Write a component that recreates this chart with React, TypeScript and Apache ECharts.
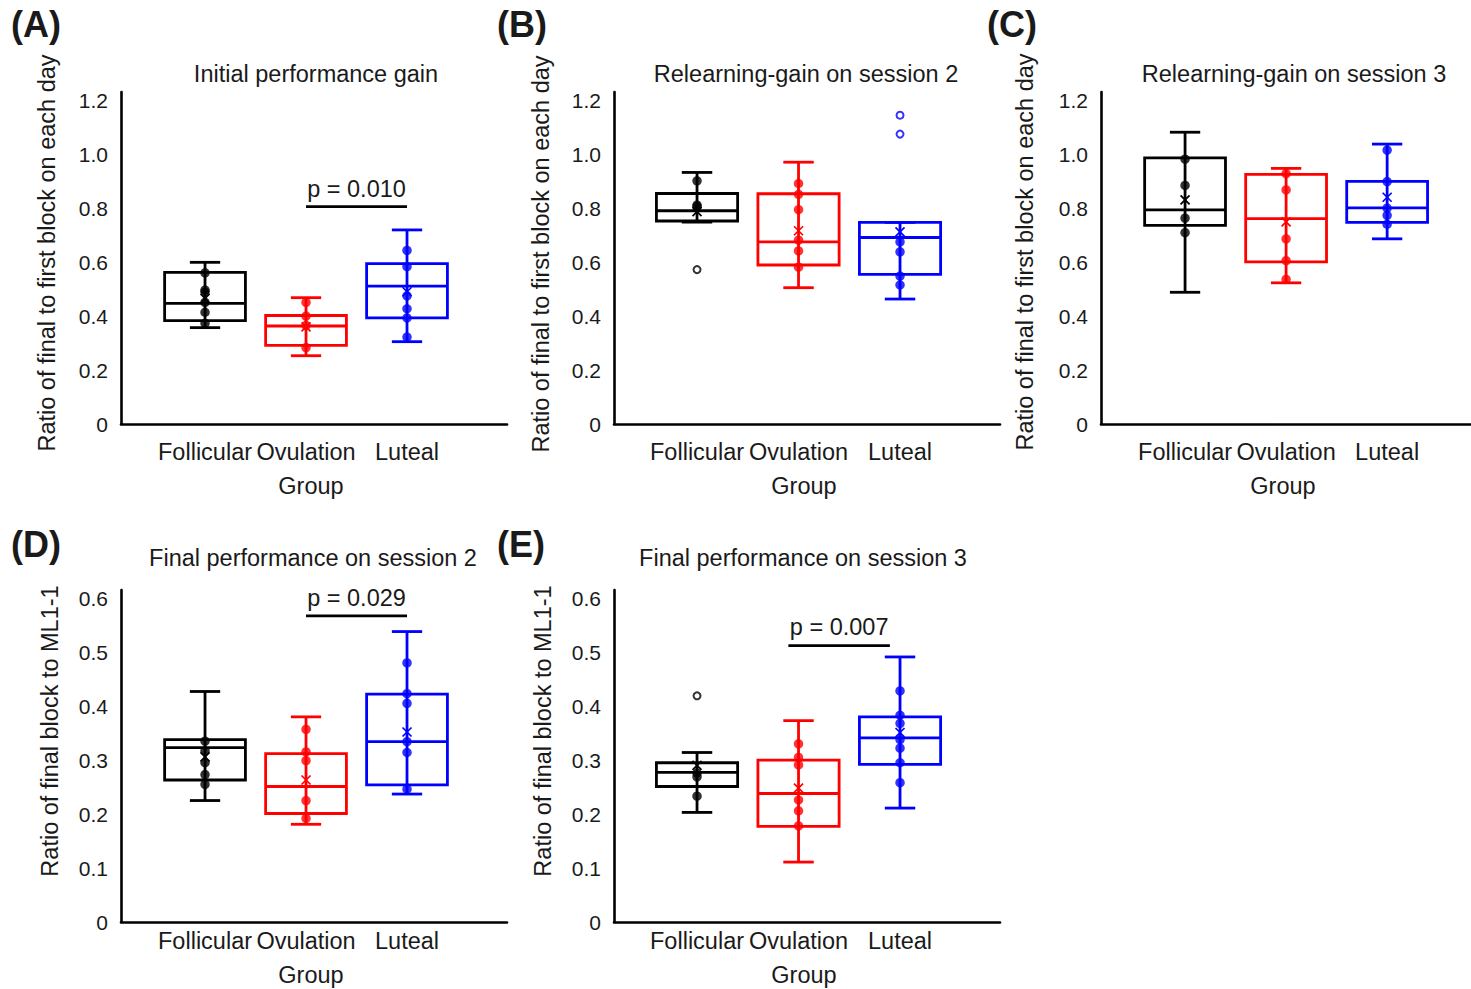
import React, { useEffect, useRef } from "react";
import * as echarts from "echarts";

// ---------- data ----------
const categories = ["Follicular", "Ovulation", "Luteal"];
const groupColors = ["#000000", "#ff0000", "#0000ff"];

const panelLetters = ["(A)", "(B)", "(C)", "(D)", "(E)"];
const panelTitles = [
  "Initial performance gain",
  "Relearning-gain on session 2",
  "Relearning-gain on session 3",
  "Final performance on session 2",
  "Final performance on session 3",
];
const yNameTop = "Ratio of final to first block on each day";
const yNameBottom = "Ratio of final block to ML1-1";
const xName = "Group";

const yTickLabelsTop = ["0", "0.2", "0.4", "0.6", "0.8", "1.0", "1.2"];
const yTickLabelsBottom = ["0", "0.1", "0.2", "0.3", "0.4", "0.5", "0.6"];

// stats per group: [lowWhisker, q1, median, q3, highWhisker, mean]
const statsA = [
  [0.357, 0.383, 0.447, 0.562, 0.599, 0.465],
  [0.253, 0.291, 0.363, 0.402, 0.468, 0.36],
  [0.305, 0.393, 0.511, 0.594, 0.719, 0.49],
];
const pointsA = [
  [0.56, 0.496, 0.489, 0.451, 0.414, 0.373],
  [0.451, 0.4, 0.365, 0.283],
  [0.643, 0.583, 0.475, 0.427, 0.393, 0.322],
];
const outliersA = [[], [], []];

const statsB = [
  [0.748, 0.752, 0.79, 0.854, 0.932, 0.787],
  [0.505, 0.589, 0.675, 0.853, 0.97, 0.716],
  [0.463, 0.554, 0.691, 0.747, 0.747, 0.712],
];
const pointsB = [
  [0.901, 0.811, 0.805],
  [0.891, 0.851, 0.794, 0.681, 0.641, 0.581],
  [0.675, 0.638, 0.548, 0.515],
];
const outliersB = [[0.572], [], [1.144, 1.074]];

const statsC = [
  [0.488, 0.736, 0.793, 0.986, 1.081, 0.83],
  [0.523, 0.601, 0.761, 0.925, 0.947, 0.749],
  [0.686, 0.747, 0.801, 0.899, 1.037, 0.84],
];
const pointsC = [
  [0.981, 0.884, 0.763, 0.709],
  [0.928, 0.867, 0.686, 0.605, 0.536],
  [1.015, 0.898, 0.8, 0.773, 0.74],
];
const outliersC = [[], [], []];

const statsD = [
  [0.225, 0.263, 0.323, 0.338, 0.427, 0.306],
  [0.181, 0.201, 0.251, 0.312, 0.38, 0.263],
  [0.237, 0.254, 0.334, 0.422, 0.538, 0.352],
];
const pointsD = [
  [0.335, 0.317, 0.295, 0.273, 0.255],
  [0.357, 0.315, 0.299, 0.225, 0.192],
  [0.48, 0.423, 0.405, 0.334, 0.314, 0.246],
];
const outliersD = [[], [], []];

const statsE = [
  [0.203, 0.251, 0.277, 0.295, 0.314, 0.29],
  [0.111, 0.177, 0.238, 0.3, 0.373, 0.248],
  [0.211, 0.292, 0.341, 0.38, 0.491, 0.351],
];
const pointsE = [
  [0.276, 0.269, 0.233],
  [0.33, 0.305, 0.291, 0.226, 0.206, 0.178],
  [0.428, 0.383, 0.368, 0.338, 0.322, 0.295, 0.258],
];
const outliersE = [[0.419], [], []];

// significance annotations: [fromX, toX, lineY, textY]
const pTexts = ["p = 0.010", null, null, "p = 0.029", "p = 0.007"];
const pLines = [
  [2, 3, 0.805, 0.87],
  null,
  null,
  [2, 3, 0.567, 0.6],
  [1.9, 2.9, 0.512, 0.547],
];

const allStats = [statsA, statsB, statsC, statsD, statsE];
const allPoints = [pointsA, pointsB, pointsC, pointsD, pointsE];
const allOutliers = [outliersA, outliersB, outliersC, outliersD, outliersE];

// ---------- layout ----------
const FONT = "'Liberation Sans', Arial, Helvetica, sans-serif";
const TXT = "#1a1a1a";
const FS = 23.5;

const grids = [
  { left: 121, top: 92, width: 386, height: 332 },
  { left: 614, top: 92, width: 386, height: 332 },
  { left: 1101, top: 92, width: 370, height: 332 },
  { left: 121, top: 590, width: 386, height: 332 },
  { left: 614, top: 590, width: 386, height: 332 },
];
const xRanges = [
  [0.168, 3.99],
  [0.182, 3.985],
  [0.168, 3.83],
  [0.168, 3.99],
  [0.182, 3.985],
];
const titlePos = [
  [316, 62],
  [806, 62],
  [1294, 62],
  [313, 546],
  [803, 546],
];
const letterPos = [
  [11, 6],
  [497, 6],
  [987, 6],
  [11, 526],
  [497, 526],
];
const yNameGap = [62, 61, 64, 59, 59];
const yNameShift = [10, 8, 12, 50, 50];
const xLabelMargin = [16, 16, 16, 7, 7];
const xNameGap = [50, 50, 50, 41, 41];

const LW = 2.8;

function buildOption() {
  const title: any[] = [];
  const xAxis: any[] = [];
  const yAxis: any[] = [];
  const series: any[] = [];

  for (let i = 0; i < 5; i++) {
    const top = i < 3;
    title.push({
      text: panelLetters[i],
      left: letterPos[i][0],
      top: letterPos[i][1],
      padding: 0,
      textStyle: { fontSize: 36, fontWeight: "bold", color: TXT, fontFamily: FONT },
    });
    title.push({
      text: panelTitles[i],
      left: titlePos[i][0],
      top: titlePos[i][1],
      textAlign: "center",
      padding: 0,
      textStyle: { fontSize: FS, fontWeight: "normal", color: TXT, fontFamily: FONT },
    });

    xAxis.push({
      gridIndex: i,
      type: "value",
      min: xRanges[i][0],
      max: xRanges[i][1],
      axisLine: { show: true, onZero: false, lineStyle: { color: "#000", width: 2.6 } },
      axisTick: { show: false },
      splitLine: { show: false },
      axisLabel: {
        customValues: [1, 2, 3],
        formatter: (v: number) => categories[Math.round(v) - 1] ?? "",
        margin: xLabelMargin[i],
        fontSize: FS,
        color: TXT,
        fontFamily: FONT,
      },
      name: xName,
      nameLocation: "middle",
      nameGap: xNameGap[i],
      nameTextStyle: { fontSize: FS, color: TXT, fontFamily: FONT, padding: [0, 6, 0, 0] },
    });

    const labels = top ? yTickLabelsTop : yTickLabelsBottom;
    const step = top ? 0.2 : 0.1;
    yAxis.push({
      gridIndex: i,
      type: "value",
      min: 0,
      max: top ? 1.23 : 0.615,
      interval: step,
      axisLine: { show: true, onZero: false, lineStyle: { color: "#000", width: 2.6 } },
      axisTick: { show: false },
      splitLine: { show: false },
      axisLabel: {
        showMaxLabel: false,
        margin: 13,
        fontSize: 21,
        color: TXT,
        fontFamily: FONT,
        formatter: (v: number) => labels[Math.round(v / step)] ?? "",
      },
      name: top ? yNameTop : yNameBottom,
      nameLocation: "middle",
      nameGap: yNameGap[i],
      nameTextStyle: {
        fontSize: FS,
        color: TXT,
        fontFamily: FONT,
        padding: [0, 0, 0, yNameShift[i]],
      },
    });

    // boxes
    series.push({
      type: "custom",
      xAxisIndex: i,
      yAxisIndex: i,
      z: 2,
      silent: true,
      encode: { x: 0, y: [1, 2, 3, 4, 5] },
      data: allStats[i].map((s, g) => [g + 1, ...s, g]),
      renderItem: (params: any, api: any) => {
        const x = api.value(0);
        const lo = api.value(1);
        const q1 = api.value(2);
        const md = api.value(3);
        const q3 = api.value(4);
        const hi = api.value(5);
        const mn = api.value(6);
        const color = groupColors[api.value(7)];
        const pLo = api.coord([x, lo]);
        const pQ1 = api.coord([x, q1]);
        const pMd = api.coord([x, md]);
        const pQ3 = api.coord([x, q3]);
        const pHi = api.coord([x, hi]);
        const pMn = api.coord([x, mn]);
        const half = api.size([0.4, 0])[0];
        const cap = api.size([0.15, 0])[0];
        const cx = pMd[0];
        const st = { stroke: color, lineWidth: LW, fill: "none" };
        const c = 4.5;
        return {
          type: "group",
          children: [
            { type: "line", shape: { x1: cx, y1: pLo[1], x2: cx, y2: pHi[1] }, style: st },
            {
              type: "rect",
              shape: { x: cx - half, y: pQ3[1], width: 2 * half, height: pQ1[1] - pQ3[1] },
              style: st,
            },
            { type: "line", shape: { x1: cx - half, y1: pMd[1], x2: cx + half, y2: pMd[1] }, style: st },
            { type: "line", shape: { x1: cx - cap, y1: pLo[1], x2: cx + cap, y2: pLo[1] }, style: st },
            { type: "line", shape: { x1: cx - cap, y1: pHi[1], x2: cx + cap, y2: pHi[1] }, style: st },
            {
              type: "line",
              shape: { x1: cx - c, y1: pMn[1] - c, x2: cx + c, y2: pMn[1] + c },
              style: { stroke: color, lineWidth: 1.7 },
            },
            {
              type: "line",
              shape: { x1: cx - c, y1: pMn[1] + c, x2: cx + c, y2: pMn[1] - c },
              style: { stroke: color, lineWidth: 1.7 },
            },
          ],
        };
      },
    });

    // data points
    const pts: any[] = [];
    allPoints[i].forEach((arr, g) =>
      arr.forEach((v) => pts.push({ value: [g + 1, v], itemStyle: { color: groupColors[g] } }))
    );
    series.push({
      type: "scatter",
      xAxisIndex: i,
      yAxisIndex: i,
      z: 3,
      silent: true,
      symbol: "circle",
      symbolSize: 9.5,
      data: pts,
    });

    // outliers
    const outs: any[] = [];
    allOutliers[i].forEach((arr, g) =>
      arr.forEach((v) =>
        outs.push({
          value: [g + 1, v],
          itemStyle: { color: "#ffffff", borderColor: groupColors[g], borderWidth: 2 },
        })
      )
    );
    if (outs.length) {
      series.push({
        type: "scatter",
        xAxisIndex: i,
        yAxisIndex: i,
        z: 3,
        silent: true,
        symbol: "circle",
        symbolSize: 7,
        data: outs,
      });
    }

    // significance
    const pl = pLines[i];
    const pt = pTexts[i];
    if (pl && pt) {
      series.push({
        type: "custom",
        xAxisIndex: i,
        yAxisIndex: i,
        z: 4,
        silent: true,
        encode: { x: [0, 1], y: [2, 3] },
        data: [pl],
        renderItem: (params: any, api: any) => {
          const a = api.coord([api.value(0), api.value(2)]);
          const b = api.coord([api.value(1), api.value(2)]);
          const t = api.coord([(api.value(0) + api.value(1)) / 2, api.value(3)]);
          return {
            type: "group",
            children: [
              {
                type: "line",
                shape: { x1: a[0], y1: a[1], x2: b[0], y2: b[1] },
                style: { stroke: "#000", lineWidth: 2.8 },
              },
              {
                type: "text",
                x: t[0],
                y: t[1],
                style: {
                  text: pt,
                  fill: TXT,
                  fontSize: FS,
                  fontFamily: FONT,
                  align: "center",
                  verticalAlign: "middle",
                  textAlign: "center",
                  textVerticalAlign: "middle",
                },
              },
            ],
          };
        },
      });
    }
  }

  return {
    animation: false,
    backgroundColor: "#ffffff",
    title,
    grid: grids.map((g) => ({ ...g, containLabel: false, outerBoundsMode: "none" })),
    xAxis,
    yAxis,
    series,
  };
}

export default function App() {
  const ref = useRef<HTMLDivElement>(null);
  useEffect(() => {
    if (!ref.current) return;
    const chart = echarts.init(ref.current, undefined, { renderer: "svg" });
    chart.setOption(buildOption() as any);
    return () => chart.dispose();
  }, []);
  return (
    <div
      ref={ref}
      style={{ position: "fixed", left: 0, top: 0, width: 1471, height: 989, background: "#fff" }}
    />
  );
}
